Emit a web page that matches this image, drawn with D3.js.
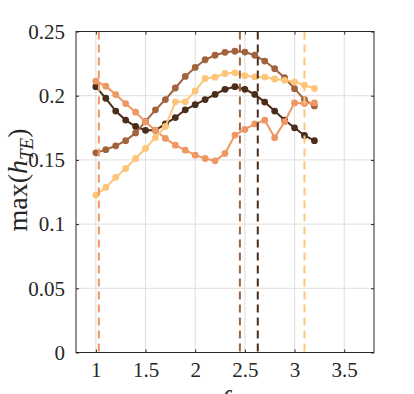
<!DOCTYPE html>
<html>
<head>
<meta charset="utf-8">
<script src="https://cdn.jsdelivr.net/npm/d3@7"></script>
<style>
  html, body { margin: 0; padding: 0; background: #fff; }
  svg { display: block; }
  svg text { font-family: "Liberation Serif", "DejaVu Serif", serif; }
</style>
</head>
<body>
<svg id="chart" width="414" height="394"></svg>
<script>
// ---------- data ----------
const fValues = [1.0, 1.1, 1.2, 1.3, 1.4, 1.5, 1.6, 1.7, 1.8, 1.9, 2.0, 2.1, 2.2, 2.3, 2.4, 2.5, 2.6, 2.7, 2.8, 2.9, 3.0, 3.1, 3.2];

const seriesDark   = [0.207, 0.198, 0.188, 0.181, 0.176, 0.173, 0.173, 0.178, 0.183, 0.189, 0.193, 0.197, 0.201, 0.205, 0.207, 0.205, 0.201, 0.195, 0.188, 0.181, 0.175, 0.169, 0.165];
const seriesBrown  = [0.1555, 0.158, 0.161, 0.165, 0.171, 0.180, 0.189, 0.197, 0.206, 0.215, 0.222, 0.228, 0.2315, 0.2338, 0.2346, 0.234, 0.2315, 0.227, 0.221, 0.214, 0.2055, 0.197, 0.192];
const seriesOrange = [0.2113, 0.2074, 0.2009, 0.1939, 0.1872, 0.1796, 0.1731, 0.1667, 0.1615, 0.1576, 0.1537, 0.1511, 0.1493, 0.1550, 0.1693, 0.1737, 0.1780, 0.1809, 0.1673, 0.1798, 0.1944, 0.1939, 0.1944];
const seriesLight  = [0.1226, 0.1286, 0.1364, 0.1433, 0.1511, 0.1589, 0.1675, 0.1760, 0.1952, 0.1952, 0.2037, 0.2134, 0.2144, 0.2173, 0.2178, 0.2157, 0.2146, 0.2145, 0.2130, 0.2120, 0.2108, 0.2082, 0.2056];

const seriesNames  = ["dark", "brown", "orange", "light"];
const seriesColors = ["#4b2c19", "#a0633c", "#ee9762", "#fdc578"];
const seriesData   = [seriesDark, seriesBrown, seriesOrange, seriesLight];
const peakF        = [2.63, 2.45, 1.03, 3.10];   // dashed vertical lines

const xTicks = [1, 1.5, 2, 2.5, 3, 3.5];
const xTickLabels = ["1", "1.5", "2", "2.5", "3", "3.5"];
const yTicks = [0, 0.05, 0.1, 0.15, 0.2, 0.25];
const yTickLabels = ["0", "0.05", "0.1", "0.15", "0.2", "0.25"];

// ---------- layout ----------
const L = 76, R = 374, T = 31.5, B = 352.5;
const x = d3.scaleLinear().domain([0.8, 3.8]).range([L, R]);
const y = d3.scaleLinear().domain([0, 0.25]).range([B, T]);

const svg = d3.select("#chart");
const axisColor = "#262626";
const fontFam = "Liberation Serif, DejaVu Serif, serif";

// grid
const grid = svg.append("g");
grid.selectAll("line.gx").data(xTicks).join("line")
  .attr("x1", d => x(d)).attr("x2", d => x(d))
  .attr("y1", T).attr("y2", B)
  .attr("stroke", "#dedede").attr("stroke-width", 1);
grid.selectAll("line.gy").data(yTicks).join("line")
  .attr("x1", L).attr("x2", R)
  .attr("y1", d => y(d)).attr("y2", d => y(d))
  .attr("stroke", "#dedede").attr("stroke-width", 1);

// series
const line = d3.line().x((d, i) => x(fValues[i])).y(d => y(d));
const plot = svg.append("g");
seriesData.forEach((vals, k) => {
  const g = plot.append("g").attr("class", "series-" + seriesNames[k]);
  g.append("path").datum(vals)
    .attr("d", line)
    .attr("fill", "none")
    .attr("stroke", seriesColors[k])
    .attr("stroke-width", 2);
  g.selectAll("circle").data(vals).join("circle")
    .attr("cx", (d, i) => x(fValues[i]))
    .attr("cy", d => y(d))
    .attr("r", 3.4)
    .attr("fill", seriesColors[k]);
});

// dashed vertical lines
svg.append("g").selectAll("line").data(peakF).join("line")
  .attr("x1", d => x(d)).attr("x2", d => x(d))
  .attr("y1", T).attr("y2", B)
  .attr("stroke", (d, i) => seriesColors[i])
  .attr("stroke-width", 2)
  .attr("stroke-dasharray", "8,5");

// axes (box with inward ticks)
const tickLen = 3;
const axX = d3.axisBottom(x).tickValues(xTicks).tickSizeInner(-tickLen).tickSizeOuter(0)
  .tickFormat((d, i) => xTickLabels[i]).tickPadding(10);
const axY = d3.axisLeft(y).tickValues(yTicks).tickSizeInner(-tickLen).tickSizeOuter(0)
  .tickFormat((d, i) => yTickLabels[i]).tickPadding(11);
const axXTop = d3.axisTop(x).tickValues(xTicks).tickSizeInner(-tickLen).tickSizeOuter(0).tickFormat("");
const axYRight = d3.axisRight(y).tickValues(yTicks).tickSizeInner(-tickLen).tickSizeOuter(0).tickFormat("");

function styleAxis(g) {
  g.attr("font-family", fontFam).attr("font-size", 21);
  g.select(".domain").remove();
  g.selectAll(".tick line").attr("stroke", axisColor);
  g.selectAll("text").attr("fill", axisColor)
    .attr("font-family", fontFam)
    .style("font-family", fontFam).style("font-size", "21px");
}
svg.append("g").attr("transform", `translate(0,${B})`).call(axX).call(styleAxis);
svg.append("g").attr("transform", `translate(${L},0)`).call(axY).call(styleAxis);
svg.append("g").attr("transform", `translate(0,${T})`).call(axXTop).call(styleAxis);
svg.append("g").attr("transform", `translate(${R},0)`).call(axYRight).call(styleAxis);

svg.append("rect")
  .attr("x", L).attr("y", T).attr("width", R - L).attr("height", B - T)
  .attr("fill", "none").attr("stroke", axisColor).attr("stroke-width", 1);

// y label: max(h_TE)
const yl = svg.append("text")
  .attr("transform", `translate(27,180) rotate(-90)`)
  .attr("text-anchor", "middle")
  .attr("fill", axisColor)
  .style("font-family", fontFam)
  .style("font-size", "28px");
yl.append("tspan").text("max(");
yl.append("tspan").style("font-style", "italic").text("h");
yl.append("tspan").style("font-style", "italic").style("font-size", "19px").attr("dy", 6).text("TE");
yl.append("tspan").attr("dy", -6).text(")");

// x label: f (partly below the bottom edge, as in the reference)
svg.append("text")
  .attr("x", (L + R) / 2).attr("y", 409)
  .attr("text-anchor", "middle")
  .attr("fill", axisColor)
  .style("font-family", fontFam)
  .style("font-size", "28px")
  .style("font-style", "italic")
  .text("f");
</script>
</body>
</html>
